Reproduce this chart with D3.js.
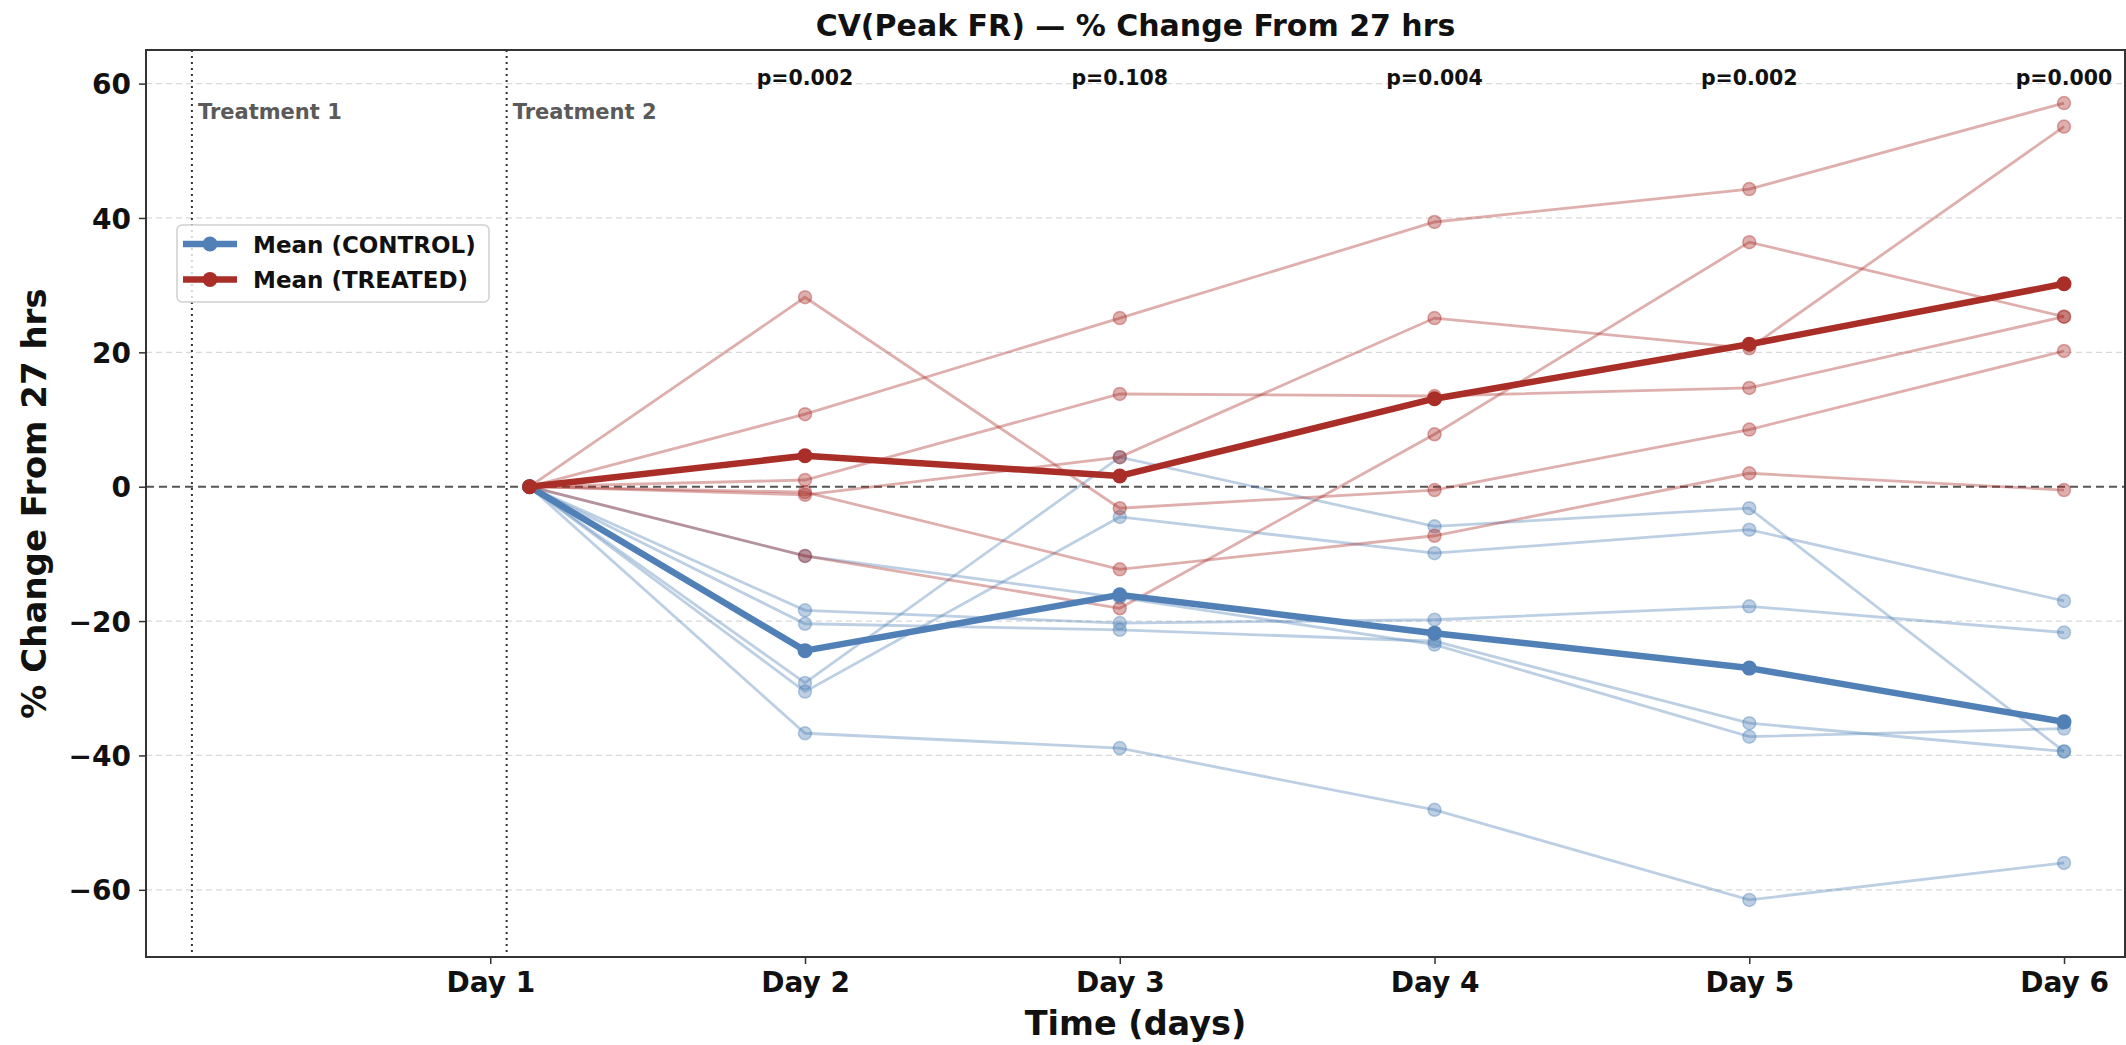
<!DOCTYPE html>
<html>
<head>
<meta charset="utf-8">
<script src="https://cdn.jsdelivr.net/npm/d3@7"></script>
<style>
  html, body { margin: 0; padding: 0; background: #fff; }
  svg { display: block; font-family: "DejaVu Sans", sans-serif; }
</style>
</head>
<body>
<svg id="chart" width="2126" height="1045"></svg>
<script>
// ---- data ----
const timeHours = [27, 48, 72, 96, 120, 144];
const dayTickHours = [24, 48, 72, 96, 120, 144];
const dayTickLabels = ["Day 1", "Day 2", "Day 3", "Day 4", "Day 5", "Day 6"];
const yTicks = [-60, -40, -20, 0, 20, 40, 60];

const controlSeries = [
  [0, -36.7, -38.9, -48.1, -61.5, -56.0],
  [0, -29.2, 4.4, -5.9, -3.2, -39.4],
  [0, -30.5, -4.5, -9.9, -6.4, -17.0],
  [0, -18.4, -20.3, -19.8, -17.8, -21.7],
  [0, -20.4, -21.3, -23.0, -35.2, -39.4],
  [0, -10.3, -16.5, -23.5, -37.2, -36.0]
];
const treatedSeries = [
  [0, 28.2, -3.2, -0.5, 8.5, 20.2],
  [0, 10.8, 25.1, 39.4, 44.3, 57.1],
  [0, 1.0, 13.8, 13.5, 14.7, 25.3],
  [0, -1.2, 4.4, 25.1, 20.6, 53.6],
  [0, -0.8, -12.3, -7.3, 2.0, -0.5],
  [0, -10.3, -18.1, 7.8, 36.4, 25.3]
];
const controlMean = [0, -24.4, -16.1, -21.8, -27.0, -35.0];
const treatedMean = [0, 4.6, 1.6, 13.1, 21.2, 30.2];

const pHours = [48, 72, 96, 120, 144];
const pLabels = ["p=0.002", "p=0.108", "p=0.004", "p=0.002", "p=0.000"];

const treatmentHours = [1.25, 25.25];
const treatmentLabels = ["Treatment 1", "Treatment 2"];

const legendLabels = ["Mean (CONTROL)", "Mean (TREATED)"];
const titleText = "CV(Peak FR) \u2014 % Change From 27 hrs";
const xLabelText = "Time (days)";
const yLabelText = "% Change From 27 hrs";

// ---- styles ----
const BLUE = "#5080b6";
const RED = "#a92e27";

const svg = d3.select("#chart");
const plotL = 146, plotR = 2125, plotT = 50, plotB = 957;

const x = d3.scaleLinear().domain([-2.25, 148.65]).range([plotL, plotR]);
const y = d3.scaleLinear().domain([-70, 65]).range([plotB, plotT]);

// grid lines
svg.append("g").selectAll("line").data(yTicks.filter(d => d !== 0)).join("line")
  .attr("x1", plotL).attr("x2", plotR)
  .attr("y1", d => y(d)).attr("y2", d => y(d))
  .attr("stroke", "#d9d9d9").attr("stroke-width", 1.2)
  .attr("stroke-dasharray", "6,4");

// zero line
svg.append("line")
  .attr("x1", plotL).attr("x2", plotR)
  .attr("y1", y(0)).attr("y2", y(0))
  .attr("stroke", "#555").attr("stroke-width", 2)
  .attr("stroke-dasharray", "8,5");

// treatment lines
svg.append("g").selectAll("line").data(treatmentHours).join("line")
  .attr("x1", d => x(d)).attr("x2", d => x(d))
  .attr("y1", plotT).attr("y2", plotB)
  .attr("stroke", "#333").attr("stroke-width", 2)
  .attr("stroke-dasharray", "2,4");

svg.append("g").selectAll("text").data(treatmentHours).join("text")
  .attr("x", d => x(d) + 6).attr("y", 119)
  .attr("font-size", 21).attr("font-weight", "bold")
  .attr("fill", "#5a5a5a")
  .text((d, i) => treatmentLabels[i]);

const line = d3.line().x((d, i) => x(timeHours[i])).y(d => y(d));

function drawIndividuals(series, color) {
  const g = svg.append("g");
  series.forEach(s => {
    g.append("path").datum(s)
      .attr("d", line).attr("fill", "none")
      .attr("stroke", color).attr("stroke-width", 2.8)
      .attr("stroke-opacity", 0.38);
    g.selectAll(null).data(s).join("circle")
      .attr("cx", (d, i) => x(timeHours[i])).attr("cy", d => y(d))
      .attr("r", 6.5)
      .attr("fill", color).attr("fill-opacity", 0.38)
      .attr("stroke", color).attr("stroke-opacity", 0.38).attr("stroke-width", 1.5);
  });
}
drawIndividuals(controlSeries, BLUE);
drawIndividuals(treatedSeries, RED);

function drawMean(s, color) {
  const g = svg.append("g");
  g.append("path").datum(s)
    .attr("d", line).attr("fill", "none")
    .attr("stroke", color).attr("stroke-width", 6.5)
    .attr("stroke-linejoin", "round");
  g.selectAll(null).data(s).join("circle")
    .attr("cx", (d, i) => x(timeHours[i])).attr("cy", d => y(d))
    .attr("r", 7.5).attr("fill", color);
}
drawMean(controlMean, BLUE);
drawMean(treatedMean, RED);

// p-values
svg.append("g").selectAll("text").data(pHours).join("text")
  .attr("x", d => x(d)).attr("y", 85)
  .attr("text-anchor", "middle")
  .attr("font-size", 20.5).attr("font-weight", "bold")
  .attr("fill", "#111")
  .text((d, i) => pLabels[i]);

// spines
svg.append("rect")
  .attr("x", plotL).attr("y", plotT)
  .attr("width", plotR - plotL).attr("height", plotB - plotT)
  .attr("fill", "none").attr("stroke", "#333").attr("stroke-width", 2);

// axes
const yAxis = d3.axisLeft(y).tickValues(yTicks).tickSize(7).tickPadding(8);
const gy = svg.append("g").attr("transform", `translate(${plotL},0)`).call(yAxis);
const xAxis = d3.axisBottom(x).tickValues(dayTickHours)
  .tickFormat((d, i) => dayTickLabels[i]).tickSize(7).tickPadding(8);
const gx = svg.append("g").attr("transform", `translate(0,${plotB})`).call(xAxis);
[gx, gy].forEach(g => {
  g.select(".domain").remove();
  g.selectAll(".tick line").attr("stroke", "#333").attr("stroke-width", 1.5);
  g.selectAll(".tick text").attr("font-size", 28).attr("font-weight", "bold")
    .attr("fill", "#111").attr("font-family", "DejaVu Sans");
});
gy.selectAll(".tick text").attr("dy", "0.36em");

// title & labels
svg.append("text").attr("x", (plotL + plotR) / 2).attr("y", 36)
  .attr("text-anchor", "middle").attr("font-size", 30).attr("font-weight", "bold")
  .attr("fill", "#111").text(titleText);
svg.append("text").attr("x", (plotL + plotR) / 2).attr("y", 1035)
  .attr("text-anchor", "middle").attr("font-size", 33.5).attr("font-weight", "bold")
  .attr("fill", "#111").text(xLabelText);
svg.append("text")
  .attr("transform", `translate(46,${(plotT + plotB) / 2}) rotate(-90)`)
  .attr("text-anchor", "middle").attr("font-size", 34).attr("font-weight", "bold")
  .attr("fill", "#111").text(yLabelText);

// legend
const lg = svg.append("g");
lg.append("rect").attr("x", 177).attr("y", 225).attr("width", 312).attr("height", 77)
  .attr("rx", 5).attr("fill", "#fff").attr("fill-opacity", 0.8)
  .attr("stroke", "#d0d0d0").attr("stroke-width", 1.5);
const legendColors = [BLUE, RED];
legendLabels.forEach((lab, i) => {
  const ly = 244 + i * 35.5;
  lg.append("line").attr("x1", 183).attr("x2", 237).attr("y1", ly).attr("y2", ly)
    .attr("stroke", legendColors[i]).attr("stroke-width", 6.5);
  lg.append("circle").attr("cx", 210).attr("cy", ly).attr("r", 7.5).attr("fill", legendColors[i]);
  lg.append("text").attr("x", 253).attr("y", ly + 8.5)
    .attr("font-size", 23).attr("font-weight", "bold").attr("fill", "#111").text(lab);
});
</script>
</body>
</html>
